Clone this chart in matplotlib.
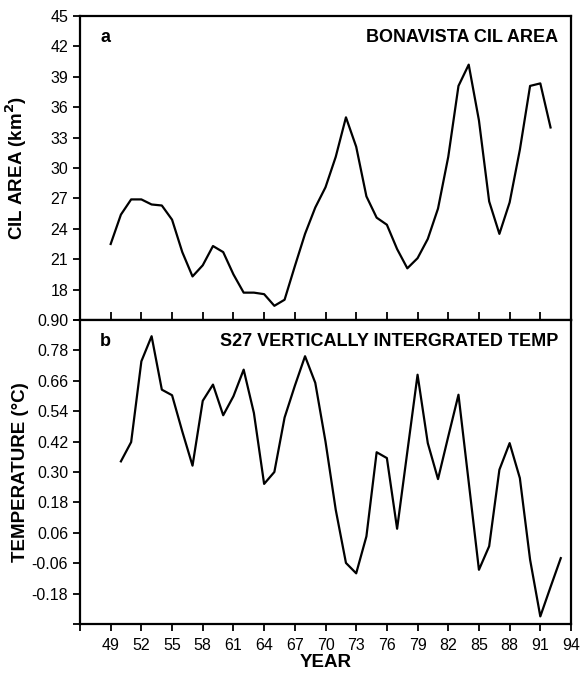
import matplotlib
matplotlib.use('Agg')
import matplotlib.pyplot as plt

plt.rcParams['font.family'] = 'Liberation Sans'
plt.rcParams['font.size'] = 11.5

# panel a: Bonavista CIL area (km^2), 1949-1992
years_cil = list(range(49, 93))
cil_area = [22.5, 25.4, 26.9, 26.9, 26.4, 26.3, 24.9, 21.7, 19.3, 20.4,
            22.3, 21.7, 19.5, 17.7, 17.7, 17.55, 16.4, 17.0, 20.3, 23.5,
            26.1, 28.1, 31.1, 35.0, 32.1, 27.2, 25.1, 24.4, 22.0, 20.1,
            21.1, 23.0, 26.0, 31.1, 38.1, 40.2, 34.7, 26.7, 23.5, 26.6,
            31.8, 38.1, 38.35, 34.0]

# panel b: S27 vertically integrated temperature (deg C), 1950-1993
years_temp = list(range(50, 94))
temp = [0.342, 0.418, 0.737, 0.836, 0.625, 0.603, 0.46, 0.325, 0.581, 0.645,
        0.524, 0.599, 0.704, 0.533, 0.253, 0.30, 0.515, 0.64, 0.757, 0.652,
        0.42, 0.151, -0.059, -0.10, 0.046, 0.378, 0.355, 0.076, 0.38, 0.684,
        0.414, 0.272, 0.44, 0.605, 0.26, -0.086, 0.007, 0.309, 0.414, 0.276,
        -0.046, -0.27, -0.154, -0.04]

xticks = list(range(46, 95, 3))
cil_ticks = [15, 18, 21, 24, 27, 30, 33, 36, 39, 42, 45]
temp_ticks = [-0.30, -0.18, -0.06, 0.06, 0.18, 0.30, 0.42, 0.54, 0.66, 0.78, 0.90]

fig = plt.figure(figsize=(5.8, 6.77), dpi=100)
ax1 = fig.add_axes([80 / 580, 1 - 320 / 677, 491 / 580, 304 / 677])
ax2 = fig.add_axes([80 / 580, 1 - 624 / 677, 491 / 580, 304 / 677])

for ax in (ax1, ax2):
    for s in ax.spines.values():
        s.set_linewidth(1.6)
    ax.set_xlim(46, 94)
    ax.set_xticks(xticks)

# top panel
ax1.plot(years_cil, cil_area, color='black', linewidth=1.6)
ax1.set_ylim(15, 45)
ax1.set_yticks(cil_ticks)
ax1.set_yticklabels([''] + [str(v) for v in cil_ticks[1:]])
ax1.tick_params(axis='x', direction='in', length=6, width=1.3, labelbottom=False)
ax1.tick_params(axis='y', direction='out', length=5, width=1.3)
ax1.set_ylabel('CIL AREA (km$^\\mathbf{2}$)', fontsize=13.5, fontweight='bold')
ax1.yaxis.set_label_coords(-0.104, 0.5)
ax1.text(0.041, 0.93, 'a', transform=ax1.transAxes, fontsize=13,
         fontweight='bold', ha='left', va='center')
ax1.text(0.974, 0.93, 'BONAVISTA CIL AREA', transform=ax1.transAxes,
         fontsize=13, fontweight='bold', ha='right', va='center')

# bottom panel
ax2.plot(years_temp, temp, color='black', linewidth=1.6)
ax2.set_ylim(-0.30, 0.90)
ax2.set_yticks(temp_ticks)
ax2.set_yticklabels([''] + ['%.2f' % v for v in temp_ticks[1:]])
ax2.set_xticklabels([''] + [str(v) for v in xticks[1:]])
ax2.tick_params(axis='x', direction='out', length=5, width=1.3, pad=5)
ax2.tick_params(axis='y', direction='out', length=5, width=1.3)
ax2.set_ylabel('TEMPERATURE (°C)', fontsize=13.5, fontweight='bold')
ax2.yaxis.set_label_coords(-0.104, 0.5)
ax2.set_xlabel('YEAR', fontsize=13.5, fontweight='bold')
ax2.xaxis.set_label_coords(0.5, -0.099)
ax2.text(0.041, 0.93, 'b', transform=ax2.transAxes, fontsize=13,
         fontweight='bold', ha='left', va='center')
ax2.text(0.974, 0.93, 'S27 VERTICALLY INTERGRATED TEMP', transform=ax2.transAxes,
         fontsize=13, fontweight='bold', ha='right', va='center')

fig.savefig('out.png', dpi=100)
plt.close(fig)
